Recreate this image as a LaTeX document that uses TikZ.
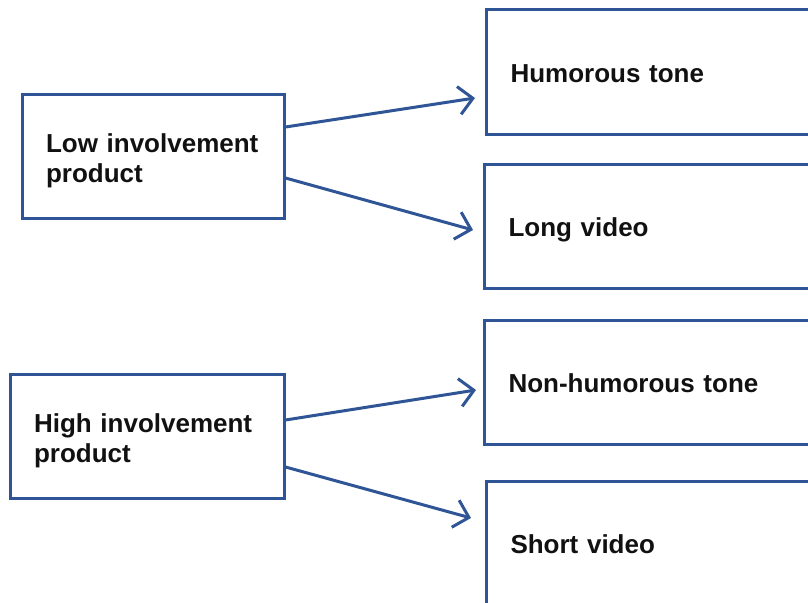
\documentclass[tikz,border=0pt]{standalone}
\usepackage{fontspec}
\setmainfont{Liberation Sans}
\usetikzlibrary{arrows.meta, positioning, calc}
\usepackage{xcolor}
\definecolor{BoxBlue}{HTML}{2F5597}
\definecolor{TextBlack}{HTML}{111111}
\tikzset{
    % Box styles - sharp corners, text on the left
    productbox/.style={
        rectangle,
        draw=BoxBlue,
        fill=white,
        line width=3pt,
        minimum height=124pt,
        inner xsep=24pt,
        text height=20pt,
        text depth=28pt,
        align=left,
        text=TextBlack,
        font=\fontsize{26}{30}\selectfont\bfseries
    },
    appealbox/.style={
        rectangle,
        draw=BoxBlue,
        fill=white,
        line width=3pt,
        minimum width=360pt,
        minimum height=124pt,
        inner xsep=24pt,
        text width=312pt,
        text height=20pt,
        text depth=0pt,
        align=left,
        anchor=west,
        text=TextBlack,
        font=\fontsize{26}{30}\selectfont\bfseries
    },
    % Arrow style - straight lines only
    arrow/.style={
        -{Straight Barb[length=14pt, width=28pt]},
        line width=3pt,
        draw=BoxBlue
    }
}
\begin{document}
\begin{tikzpicture}[x=1pt, y=-1pt]
    \clip (0,0) rectangle (808,602);
    \fill[white] (0,0) rectangle (808,602);

    % left side: products
    \node[productbox, minimum width=262pt, text width=214pt] (low) at (153,156) {Low involvement\\product};
    \node[productbox, minimum width=274pt, text width=226pt] (high) at (147,436) {High involvement\\product};

    % right side: appeals
    \node[appealbox] (humor) at (485,72) {Humorous tone};
    \node[appealbox] (longv) at (483,226) {Long video};
    \node[appealbox] (nonhumor) at (483,382) {Non-humorous tone};
    \node[appealbox] (shortv) at (485,543) {Short video};

    \draw[arrow] ([yshift=29pt]low.east) -- ([xshift=-10pt, yshift=-26pt]humor.west);
    \draw[arrow] ([yshift=-22pt]low.east) -- ([xshift=-10pt, yshift=-4pt]longv.west);
    \draw[arrow] ([yshift=16pt]high.east) -- ([xshift=-7pt, yshift=-8pt]nonhumor.west);
    \draw[arrow] ([yshift=-31pt]high.east) -- ([xshift=-14pt, yshift=25pt]shortv.west);
\end{tikzpicture}
\end{document}
